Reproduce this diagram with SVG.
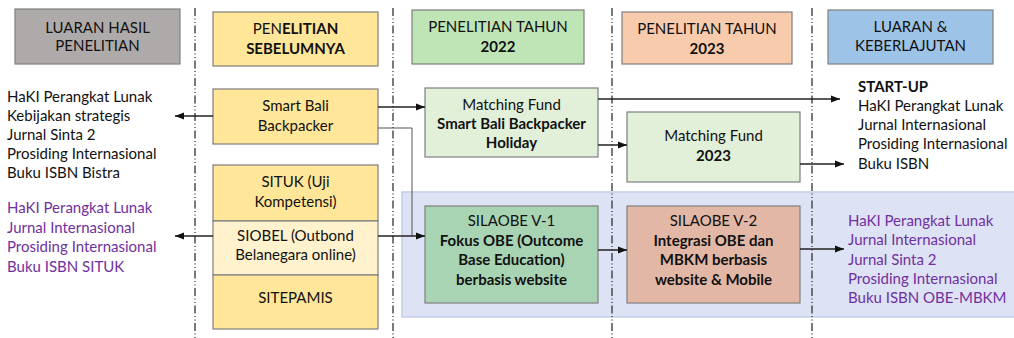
<svg xmlns="http://www.w3.org/2000/svg" width="1014" height="338" viewBox="0 0 1014 338">
<defs>
<style>
text{font-family:Lato,"Liberation Sans",sans-serif;font-size:15px;fill:#111;}
.c{text-anchor:middle;}
.b{font-weight:bold;}
.p{fill:#7030A0;}
.box{stroke:#7f7f7f;stroke-width:1.2;}
.sep{stroke:#333;stroke-width:1.3;stroke-dasharray:8 2.5 1 2.5 1 2.5;fill:none;}
.con{stroke:#222;stroke-width:1.5;fill:none;}
.thin{stroke:#555;stroke-width:1;fill:none;}
</style>
<marker id="ah" markerUnits="userSpaceOnUse" markerWidth="10" markerHeight="10" viewBox="0 0 10 10" refX="9" refY="5" orient="auto">
<path d="M0,1.5 L9,5 L0,8.5 Z" fill="#111"/>
</marker>
</defs>

<rect x="402" y="192" width="620" height="125" fill="#DDE3F4" stroke="#C5CDE8" stroke-width="1.5"/>

<g id="separators">
<line class="sep" x1="195" y1="8" x2="195" y2="338"/>
<line class="sep" x1="393" y1="8" x2="393" y2="338"/>
<line class="sep" x1="612" y1="8" x2="612" y2="338"/>
<line class="sep" x1="812" y1="8" x2="812" y2="338"/>
</g>

<g id="h1"><rect class="box" x="15" y="9" width="165" height="55" fill="#AEAAAA"/>
<text class="c" x="97.5" y="33">LUARAN HASIL</text><text class="c" x="97.5" y="51">PENELITIAN</text></g>
<g id="h2"><rect class="box" x="213" y="12" width="165" height="54" fill="#FFE699"/>
<text class="c" x="295.5" y="34">PEN<tspan class="b">ELITIAN</tspan></text><text class="c b" x="295.5" y="54">SEBELUMNYA</text></g>
<g id="h3"><rect class="box" x="412" y="10" width="172" height="54" fill="#BFE4B5"/>
<text class="c" x="498" y="32">PENELITIAN TAHUN</text><text class="c b" x="498" y="52">2022</text></g>
<g id="h4"><rect class="box" x="622" y="12" width="170" height="52" fill="#F8CBAD"/>
<text class="c" x="707" y="34">PENELITIAN TAHUN</text><text class="c b" x="707" y="54">2023</text></g>
<g id="h5"><rect class="box" x="828" y="10" width="165" height="54" fill="#9DC3E6"/>
<text class="c" x="910.5" y="32">LUARAN &amp;</text><text class="c" x="910.5" y="51">KEBERLAJUTAN</text></g>

<g id="out-left-1">
<text x="7" y="102">HaKI Perangkat Lunak</text>
<text x="7" y="121">Kebijakan strategis</text>
<text x="7" y="140">Jurnal Sinta 2</text>
<text x="7" y="159">Prosiding Internasional</text>
<text x="7" y="178">Buku ISBN Bistra</text>
</g>
<g id="out-left-2">
<text class="p" x="7" y="213">HaKI Perangkat Lunak</text>
<text class="p" x="7" y="233">Jurnal Internasional</text>
<text class="p" x="7" y="252">Prosiding Internasional</text>
<text class="p" x="7" y="272">Buku ISBN SITUK</text>
</g>

<g id="smartbali"><rect class="box" x="213" y="89" width="165" height="55" fill="#FFE699"/>
<text class="c" x="295.5" y="111">Smart Bali</text><text class="c" x="295.5" y="131">Backpacker</text></g>

<g id="stack">
<rect class="box" x="213" y="165" width="165" height="56" fill="#FFE699"/>
<text class="c" x="295.5" y="187">SITUK (Uji</text><text class="c" x="295.5" y="207">Kompetensi)</text>
<rect class="box" x="213" y="221" width="165" height="54" fill="#FFF2CC"/>
<text class="c" x="295.5" y="241">SIOBEL (Outbond</text><text class="c" x="295.5" y="260">Belanegara online)</text>
<rect class="box" x="213" y="275" width="165" height="54" fill="#FFE699"/>
<text class="c" x="295.5" y="303">SITEPAMIS</text>
</g>

<g id="mf2022"><rect class="box" x="425" y="88" width="173" height="69" fill="#E2F0D9"/>
<text class="c" x="511.5" y="110">Matching Fund</text>
<text class="c b" x="511.5" y="129">Smart Bali Backpacker</text>
<text class="c b" x="511.5" y="148">Holiday</text></g>

<g id="mf2023"><rect class="box" x="627" y="112" width="173" height="70" fill="#E2F0D9"/>
<text class="c" x="713.5" y="141">Matching Fund</text>
<text class="c b" x="713.5" y="161">2023</text></g>

<g id="silaobe1"><rect class="box" x="425" y="206" width="173" height="97" fill="#A9D4B4"/>
<text class="c" x="511.5" y="226">SILAOBE V-1</text>
<text class="c b" x="511.5" y="246">Fokus OBE (Outcome</text>
<text class="c b" x="511.5" y="265">Base Education)</text>
<text class="c b" x="511.5" y="285">berbasis website</text></g>

<g id="silaobe2"><rect class="box" x="627" y="206" width="173" height="97" fill="#E3B7A5"/>
<text class="c" x="713.5" y="226">SILAOBE V-2</text>
<text class="c b" x="713.5" y="246">Integrasi OBE dan</text>
<text class="c b" x="713.5" y="265">MBKM berbasis</text>
<text class="c b" x="713.5" y="285">website &amp; Mobile</text></g>

<g id="out-right-1">
<text class="b" x="858" y="92">START-UP</text>
<text x="858" y="111">HaKI Perangkat Lunak</text>
<text x="858" y="130">Jurnal Internasional</text>
<text x="858" y="149">Prosiding Internasional</text>
<text x="858" y="169">Buku ISBN</text>
</g>
<g id="out-right-2">
<text class="p" x="848" y="226">HaKI Perangkat Lunak</text>
<text class="p" x="848" y="245">Jurnal Internasional</text>
<text class="p" x="848" y="265">Jurnal Sinta 2</text>
<text class="p" x="848" y="284">Prosiding Internasional</text>
<text class="p" x="848" y="303">Buku ISBN OBE-MBKM</text>
</g>

<g id="connectors">
<line class="con" x1="213" y1="116" x2="175" y2="116" marker-end="url(#ah)"/>
<line class="con" x1="213" y1="236" x2="175" y2="236" marker-end="url(#ah)"/>
<line class="con" x1="378" y1="107" x2="425" y2="107" marker-end="url(#ah)"/>
<polyline class="thin" points="378,128 412,128 412,236"/>
<line class="con" x1="378" y1="236" x2="425" y2="236" marker-end="url(#ah)"/>
<line class="con" x1="598" y1="99" x2="840" y2="99" marker-end="url(#ah)"/>
<line class="con" x1="598" y1="145" x2="627" y2="145" marker-end="url(#ah)"/>
<line class="con" x1="800" y1="164" x2="844" y2="164" marker-end="url(#ah)"/>
<line class="con" x1="598" y1="250" x2="627" y2="250" marker-end="url(#ah)"/>
<line class="con" x1="800" y1="249" x2="844" y2="249" marker-end="url(#ah)"/>
</g>
</svg>
